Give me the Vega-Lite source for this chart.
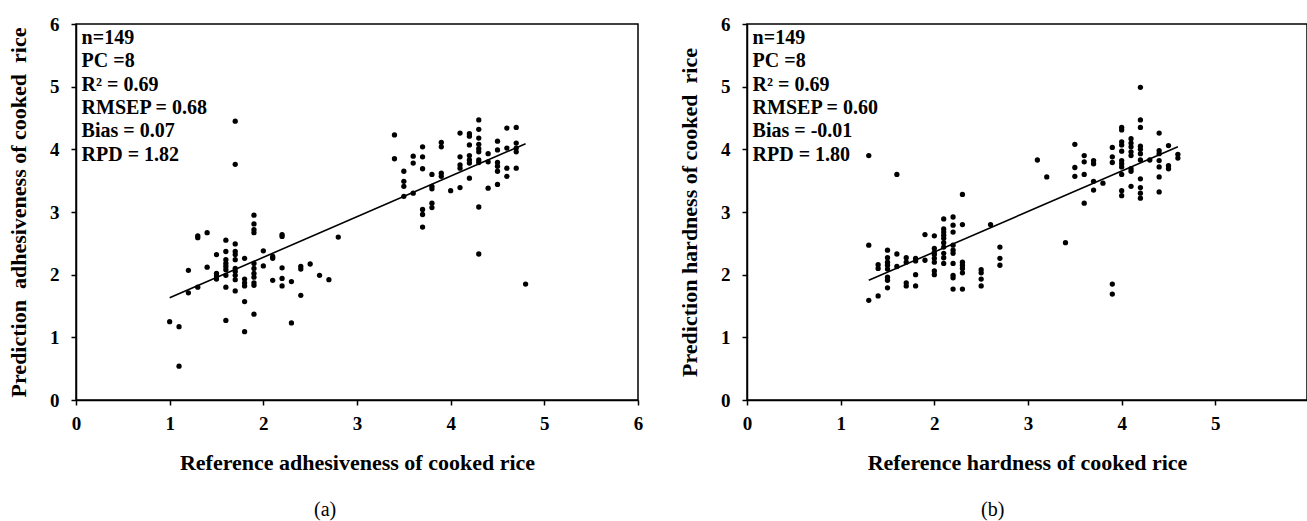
{
  "$schema": "https://vega.github.io/schema/vega-lite/v6.json",
  "background": "white",
  "padding": {"left": 6, "top": 14, "right": 0, "bottom": 0},
  "spacing": 33,
  "config": {
    "view": {"stroke": "black", "strokeWidth": 1.5},
    "axis": {
      "grid": false,
      "format": "d",
      "labelFlush": false,
      "domainColor": "black",
      "domainWidth": 1.5,
      "tickColor": "black",
      "tickWidth": 1.5,
      "tickSize": 5,
      "labelFont": "Liberation Serif",
      "labelFontWeight": "bold",
      "labelFontSize": 19,
      "labelColor": "black",
      "titleFont": "Liberation Serif",
      "titleFontWeight": "bold",
      "titleFontSize": 22,
      "titleColor": "black"
    },
    "axisX": {"labelPadding": 9, "titlePadding": 19},
    "axisY": {"labelPadding": 12, "titlePadding": 19},
    "title": {"font": "Liberation Serif", "fontWeight": "normal", "fontSize": 20, "color": "black", "orient": "bottom", "offset": 27, "anchor": "middle", "frame": "bounds"}
  },
  "datasets": {
    "adhesiveness": [
      {"x":1.0,"y":1.25},{"x":1.1,"y":1.17},{"x":1.1,"y":0.54},{"x":1.2,"y":2.07},{"x":1.2,"y":1.71},
      {"x":1.3,"y":2.62},{"x":1.3,"y":2.59},{"x":1.3,"y":1.80},{"x":1.4,"y":2.67},{"x":1.4,"y":2.12},
      {"x":1.5,"y":2.32},{"x":1.5,"y":2.02},{"x":1.5,"y":1.98},{"x":1.5,"y":1.93},
      {"x":1.6,"y":2.55},{"x":1.6,"y":2.37},{"x":1.6,"y":2.24},{"x":1.6,"y":2.18},{"x":1.6,"y":2.13},{"x":1.6,"y":2.08},{"x":1.6,"y":1.99},{"x":1.6,"y":1.80},{"x":1.6,"y":1.27},
      {"x":1.7,"y":4.45},{"x":1.7,"y":3.76},{"x":1.7,"y":2.49},{"x":1.7,"y":2.37},{"x":1.7,"y":2.32},{"x":1.7,"y":2.24},{"x":1.7,"y":2.10},{"x":1.7,"y":2.05},{"x":1.7,"y":1.99},{"x":1.7,"y":1.92},{"x":1.7,"y":1.74},
      {"x":1.8,"y":2.26},{"x":1.8,"y":1.93},{"x":1.8,"y":1.87},{"x":1.8,"y":1.82},{"x":1.8,"y":1.57},{"x":1.8,"y":1.09},
      {"x":1.9,"y":2.95},{"x":1.9,"y":2.81},{"x":1.9,"y":2.72},{"x":1.9,"y":2.67},{"x":1.9,"y":2.18},{"x":1.9,"y":2.10},{"x":1.9,"y":2.02},{"x":1.9,"y":1.96},{"x":1.9,"y":1.87},{"x":1.9,"y":1.83},{"x":1.9,"y":1.37},
      {"x":2.0,"y":2.38},{"x":2.0,"y":2.14},{"x":2.1,"y":2.29},{"x":2.1,"y":2.26},{"x":2.1,"y":1.91},
      {"x":2.2,"y":2.64},{"x":2.2,"y":2.61},{"x":2.2,"y":2.11},{"x":2.2,"y":1.94},{"x":2.2,"y":1.82},
      {"x":2.3,"y":1.89},{"x":2.3,"y":1.23},{"x":2.4,"y":2.13},{"x":2.4,"y":2.09},{"x":2.4,"y":1.67},
      {"x":2.5,"y":2.17},{"x":2.6,"y":1.99},{"x":2.7,"y":1.92},{"x":2.8,"y":2.60},
      {"x":3.4,"y":4.23},{"x":3.4,"y":3.85},{"x":3.5,"y":3.65},{"x":3.5,"y":3.49},{"x":3.5,"y":3.41},{"x":3.5,"y":3.25},
      {"x":3.6,"y":3.89},{"x":3.6,"y":3.78},{"x":3.6,"y":3.30},
      {"x":3.7,"y":4.04},{"x":3.7,"y":3.88},{"x":3.7,"y":3.69},{"x":3.7,"y":3.04},{"x":3.7,"y":2.96},{"x":3.7,"y":2.76},
      {"x":3.8,"y":3.60},{"x":3.8,"y":3.41},{"x":3.8,"y":3.37},{"x":3.8,"y":3.14},{"x":3.8,"y":3.07},
      {"x":3.9,"y":4.11},{"x":3.9,"y":4.04},{"x":3.9,"y":3.62},{"x":3.9,"y":3.57},{"x":4.0,"y":3.34},
      {"x":4.1,"y":4.26},{"x":4.1,"y":3.88},{"x":4.1,"y":3.75},{"x":4.1,"y":3.70},{"x":4.1,"y":3.39},
      {"x":4.2,"y":4.25},{"x":4.2,"y":4.21},{"x":4.2,"y":4.07},{"x":4.2,"y":3.90},{"x":4.2,"y":3.83},{"x":4.2,"y":3.78},{"x":4.2,"y":3.54},
      {"x":4.3,"y":4.47},{"x":4.3,"y":4.32},{"x":4.3,"y":4.18},{"x":4.3,"y":4.08},{"x":4.3,"y":4.01},{"x":4.3,"y":3.96},{"x":4.3,"y":3.83},{"x":4.3,"y":3.79},{"x":4.3,"y":3.08},{"x":4.3,"y":2.33},
      {"x":4.4,"y":3.93},{"x":4.4,"y":3.80},{"x":4.4,"y":3.38},
      {"x":4.5,"y":4.13},{"x":4.5,"y":3.99},{"x":4.5,"y":3.79},{"x":4.5,"y":3.73},{"x":4.5,"y":3.65},{"x":4.5,"y":3.44},
      {"x":4.6,"y":4.34},{"x":4.6,"y":4.02},{"x":4.6,"y":3.70},{"x":4.6,"y":3.57},
      {"x":4.7,"y":4.35},{"x":4.7,"y":4.10},{"x":4.7,"y":4.02},{"x":4.7,"y":3.96},{"x":4.7,"y":3.70},
      {"x":4.8,"y":1.85}
    ],
    "hardness": [
      {"x":1.3,"y":3.90},{"x":1.3,"y":2.47},{"x":1.3,"y":1.59},{"x":1.4,"y":2.16},{"x":1.4,"y":2.10},{"x":1.4,"y":1.66},
      {"x":1.5,"y":2.39},{"x":1.5,"y":2.27},{"x":1.5,"y":2.20},{"x":1.5,"y":2.15},{"x":1.5,"y":2.09},{"x":1.5,"y":1.96},{"x":1.5,"y":1.91},{"x":1.5,"y":1.79},
      {"x":1.6,"y":3.60},{"x":1.6,"y":2.33},{"x":1.6,"y":2.13},
      {"x":1.7,"y":2.27},{"x":1.7,"y":2.20},{"x":1.7,"y":1.87},{"x":1.7,"y":1.82},
      {"x":1.8,"y":2.26},{"x":1.8,"y":2.22},{"x":1.8,"y":2.00},{"x":1.8,"y":1.82},
      {"x":1.9,"y":2.64},{"x":1.9,"y":2.23},
      {"x":2.0,"y":2.62},{"x":2.0,"y":2.42},{"x":2.0,"y":2.36},{"x":2.0,"y":2.32},{"x":2.0,"y":2.26},{"x":2.0,"y":2.20},{"x":2.0,"y":2.06},{"x":2.0,"y":2.00},
      {"x":2.1,"y":2.89},{"x":2.1,"y":2.73},{"x":2.1,"y":2.68},{"x":2.1,"y":2.63},{"x":2.1,"y":2.58},{"x":2.1,"y":2.51},{"x":2.1,"y":2.44},{"x":2.1,"y":2.34},{"x":2.1,"y":2.27},{"x":2.1,"y":2.18},
      {"x":2.2,"y":2.92},{"x":2.2,"y":2.79},{"x":2.2,"y":2.68},{"x":2.2,"y":2.47},{"x":2.2,"y":2.39},{"x":2.2,"y":2.34},{"x":2.2,"y":2.18},{"x":2.2,"y":1.99},{"x":2.2,"y":1.95},{"x":2.2,"y":1.77},
      {"x":2.3,"y":3.28},{"x":2.3,"y":2.80},{"x":2.3,"y":2.20},{"x":2.3,"y":2.15},{"x":2.3,"y":2.10},{"x":2.3,"y":2.03},{"x":2.3,"y":1.77},
      {"x":2.5,"y":2.08},{"x":2.5,"y":2.03},{"x":2.5,"y":1.93},{"x":2.5,"y":1.82},
      {"x":2.6,"y":2.80},{"x":2.7,"y":2.44},{"x":2.7,"y":2.26},{"x":2.7,"y":2.15},
      {"x":3.1,"y":3.83},{"x":3.2,"y":3.56},{"x":3.4,"y":2.51},
      {"x":3.5,"y":4.08},{"x":3.5,"y":3.71},{"x":3.5,"y":3.57},
      {"x":3.6,"y":3.90},{"x":3.6,"y":3.80},{"x":3.6,"y":3.60},{"x":3.6,"y":3.14},
      {"x":3.7,"y":3.82},{"x":3.7,"y":3.77},{"x":3.7,"y":3.49},{"x":3.7,"y":3.35},{"x":3.8,"y":3.46},
      {"x":3.9,"y":4.03},{"x":3.9,"y":3.88},{"x":3.9,"y":3.79},{"x":3.9,"y":1.85},{"x":3.9,"y":1.69},
      {"x":4.0,"y":4.35},{"x":4.0,"y":4.31},{"x":4.0,"y":4.12},{"x":4.0,"y":4.07},{"x":4.0,"y":3.97},{"x":4.0,"y":3.82},{"x":4.0,"y":3.77},{"x":4.0,"y":3.72},{"x":4.0,"y":3.60},{"x":4.0,"y":3.34},{"x":4.0,"y":3.26},
      {"x":4.1,"y":4.17},{"x":4.1,"y":4.10},{"x":4.1,"y":4.04},{"x":4.1,"y":3.96},{"x":4.1,"y":3.90},{"x":4.1,"y":3.69},{"x":4.1,"y":3.65},{"x":4.1,"y":3.41},
      {"x":4.2,"y":4.99},{"x":4.2,"y":4.47},{"x":4.2,"y":4.35},{"x":4.2,"y":4.05},{"x":4.2,"y":4.00},{"x":4.2,"y":3.93},{"x":4.2,"y":3.83},{"x":4.2,"y":3.53},{"x":4.2,"y":3.39},{"x":4.2,"y":3.30},{"x":4.2,"y":3.22},
      {"x":4.3,"y":3.83},
      {"x":4.4,"y":4.26},{"x":4.4,"y":3.98},{"x":4.4,"y":3.93},{"x":4.4,"y":3.82},{"x":4.4,"y":3.72},{"x":4.4,"y":3.56},{"x":4.4,"y":3.32},
      {"x":4.5,"y":4.06},{"x":4.5,"y":3.74},{"x":4.5,"y":3.69},
      {"x":4.6,"y":3.92},{"x":4.6,"y":3.86}
    ],
    "fitA": [{"x":1.0,"y":1.63},{"x":4.8,"y":4.09}],
    "fitB": [{"x":1.3,"y":1.91},{"x":4.6,"y":4.04}],
    "statsA": [{"lines":["n=149","PC =8","R² = 0.69","RMSEP = 0.68","Bias = 0.07","RPD = 1.82"]}],
    "statsB": [{"lines":["n=149","PC =8","R² = 0.69","RMSEP = 0.60","Bias = -0.01","RPD = 1.80"]}]
  },
  "hconcat": [
    {
      "width": 562,
      "height": 376,
      "title": {"text": "(a)"},
      "layer": [
        {
          "data": {"name": "adhesiveness"},
          "mark": {"type": "circle", "size": 28, "color": "black", "opacity": 1},
          "encoding": {
            "x": {"field": "x", "type": "quantitative", "scale": {"domain": [0, 6], "nice": false}, "axis": {"values": [0,1,2,3,4,5,6], "title": "Reference adhesiveness of cooked rice"}},
            "y": {"field": "y", "type": "quantitative", "scale": {"domain": [0, 6], "nice": false}, "axis": {"values": [0,1,2,3,4,5,6], "title": "Prediction\u00a0 adhesiveness of cooked\u00a0 rice"}}
          }
        },
        {
          "data": {"name": "fitA"},
          "mark": {"type": "line", "color": "black", "strokeWidth": 1.6},
          "encoding": {
            "x": {"field": "x", "type": "quantitative"},
            "y": {"field": "y", "type": "quantitative"}
          }
        },
        {
          "data": {"name": "statsA"},
          "mark": {"type": "text", "align": "left", "baseline": "top", "font": "Liberation Serif", "fontWeight": "bold", "fontSize": 20, "lineHeight": 23.4, "color": "black"},
          "encoding": {
            "x": {"datum": 0.06, "type": "quantitative"},
            "y": {"datum": 5.94, "type": "quantitative"},
            "text": {"field": "lines"}
          }
        }
      ]
    },
    {
      "width": 560,
      "height": 376,
      "title": {"text": "(b)"},
      "layer": [
        {
          "data": {"name": "hardness"},
          "mark": {"type": "circle", "size": 28, "color": "black", "opacity": 1},
          "encoding": {
            "x": {"field": "x", "type": "quantitative", "scale": {"domain": [0, 5.9785], "nice": false}, "axis": {"values": [0,1,2,3,4,5], "title": "Reference hardness of cooked rice"}},
            "y": {"field": "y", "type": "quantitative", "scale": {"domain": [0, 6], "nice": false}, "axis": {"values": [0,1,2,3,4,5,6], "title": "Prediction hardness of cooked\u00a0 rice"}}
          }
        },
        {
          "data": {"name": "fitB"},
          "mark": {"type": "line", "color": "black", "strokeWidth": 1.6},
          "encoding": {
            "x": {"field": "x", "type": "quantitative"},
            "y": {"field": "y", "type": "quantitative"}
          }
        },
        {
          "data": {"name": "statsB"},
          "mark": {"type": "text", "align": "left", "baseline": "top", "font": "Liberation Serif", "fontWeight": "bold", "fontSize": 20, "lineHeight": 23.4, "color": "black"},
          "encoding": {
            "x": {"datum": 0.06, "type": "quantitative"},
            "y": {"datum": 5.94, "type": "quantitative"},
            "text": {"field": "lines"}
          }
        }
      ]
    }
  ]
}
